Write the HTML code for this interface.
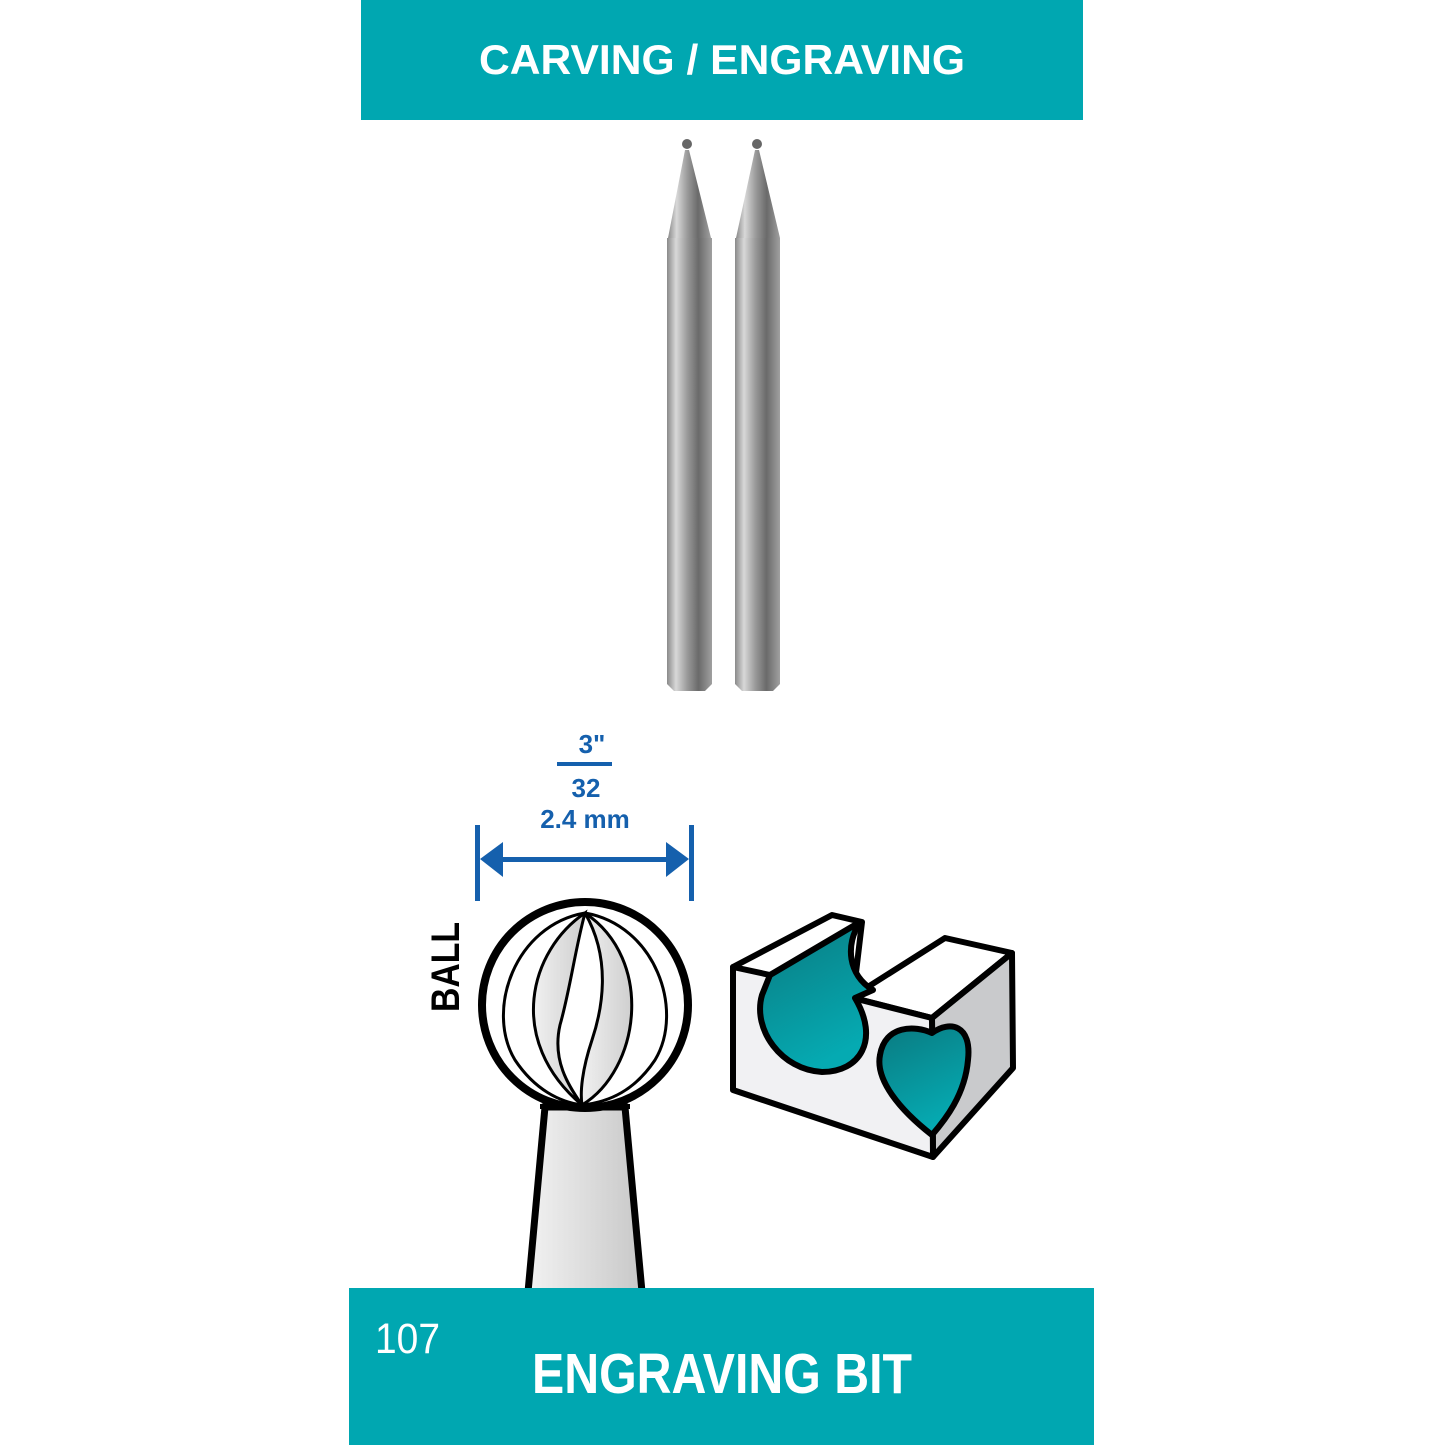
<!DOCTYPE html>
<html><head><meta charset="utf-8"><style>html,body{margin:0;padding:0;background:#fff}svg{display:block}</style></head>
<body>
<svg width="1445" height="1445" viewBox="0 0 1445 1445" xmlns="http://www.w3.org/2000/svg" font-family="Liberation Sans, sans-serif">
<defs>
<linearGradient id="sh" x1="0" x2="1" y1="0" y2="0">
<stop offset="0" stop-color="#8a8a8a"/><stop offset="0.2" stop-color="#d8d8d8"/><stop offset="0.45" stop-color="#9a9a9a"/><stop offset="0.7" stop-color="#6a6a6a"/><stop offset="1" stop-color="#a0a0a0"/>
</linearGradient>
<linearGradient id="tl" x1="0" y1="0" x2="0.4" y2="1">
<stop offset="0" stop-color="#0a7a80"/><stop offset="1" stop-color="#05aab2"/>
</linearGradient>
<linearGradient id="neck" x1="0" x2="1"><stop offset="0" stop-color="#f2f2f2"/><stop offset="1" stop-color="#c8c8c8"/></linearGradient>
<linearGradient id="band" x1="0" x2="1"><stop offset="0" stop-color="#f0f0f0"/><stop offset="1" stop-color="#cfcfcf"/></linearGradient>
</defs>
<rect x="361" y="0" width="722" height="120" fill="#00A7B1"/>
<text x="722" y="74" text-anchor="middle" fill="#fff" font-weight="bold" font-size="42" textLength="486" lengthAdjust="spacingAndGlyphs">CARVING / ENGRAVING</text>

<g>
<circle cx="687" cy="144" r="5" fill="#666"/>
<polygon points="685,150 689,150 711,238 668,238" fill="url(#sh)"/>
<path d="M667,238 H712 V684 L705,691 H674 L667,684 Z" fill="url(#sh)"/>
<circle cx="757" cy="144" r="5" fill="#666"/>
<polygon points="755,150 759,150 780,238 736,238" fill="url(#sh)"/>
<path d="M735,238 H780 V684 L773,691 H742 L735,684 Z" fill="url(#sh)"/>
</g>

<g fill="#1560ad" font-weight="bold" font-size="26" text-anchor="middle">
<text x="592" y="753">3"</text>
<rect x="557" y="762" width="55" height="4"/>
<text x="586" y="797">32</text>
<text x="585" y="828">2.4 mm</text>
<rect x="475" y="825" width="5" height="76"/>
<rect x="689" y="825" width="5" height="76"/>
<rect x="495" y="857" width="175" height="5"/>
<polygon points="480,859 503,842 503,877"/>
<polygon points="689,859 666,842 666,877"/>
</g>

<text transform="translate(459,1012) rotate(-90)" font-weight="bold" font-size="40" fill="#000" textLength="90" lengthAdjust="spacingAndGlyphs">BALL</text>
<path d="M545,1107 L625,1107 L642,1292 L528,1292 Z" fill="url(#neck)" stroke="#000" stroke-width="7"/>
<circle cx="585" cy="1005" r="103" fill="#fff" stroke="#000" stroke-width="8"/>
<g fill="none" stroke="#000" stroke-width="3">
<path d="M585,913 C515,925 485,1010 515,1060 C535,1090 560,1102 582,1105"/>
<path d="M585,913 C530,950 505,1040 582,1105 C568,1085 552,1060 560,1025 C570,990 575,950 585,913 Z" fill="url(#band)"/>
<path d="M585,913 C612,960 602,1010 592,1040 C582,1070 580,1092 582,1105 C640,1070 655,960 585,913 Z" fill="url(#band)"/>
<path d="M585,913 C655,925 685,1010 655,1060 C635,1090 610,1102 582,1105"/>
</g>
<rect x="540" y="1104" width="90" height="5" fill="#000"/>

<g stroke="#000" stroke-width="6" stroke-linejoin="round">
<polygon points="733,967 832,915 862,922 853,998 863,990 945,938 1012,953 932,1018" fill="#fff"/>
<polygon points="932,1018 1012,953 1013,1068 933,1157" fill="#c9cacc"/>
<polygon points="733,967 770,975 853,998 932,1018 933,1157 733,1090" fill="#f1f1f3"/>
<path d="M770,975 L860,922 C845,945 848,975 873,990 L855,998 C880,1040 860,1072 822,1072 C782,1070 752,1030 762,995 Z" fill="url(#tl)"/>
<path d="M932,1033 C950,1020 972,1025 968,1060 C965,1095 945,1120 932,1135 C900,1110 875,1080 880,1055 C885,1025 915,1025 932,1033 Z" fill="url(#tl)"/>
</g>

<rect x="349" y="1288" width="745" height="157" fill="#00A7B1"/>
<text x="375" y="1353" fill="#fff" font-size="43" textLength="65" lengthAdjust="spacingAndGlyphs">107</text>
<text x="532" y="1393" fill="#fff" font-weight="bold" font-size="57" textLength="380" lengthAdjust="spacingAndGlyphs">ENGRAVING BIT</text>
</svg>
</body></html>
